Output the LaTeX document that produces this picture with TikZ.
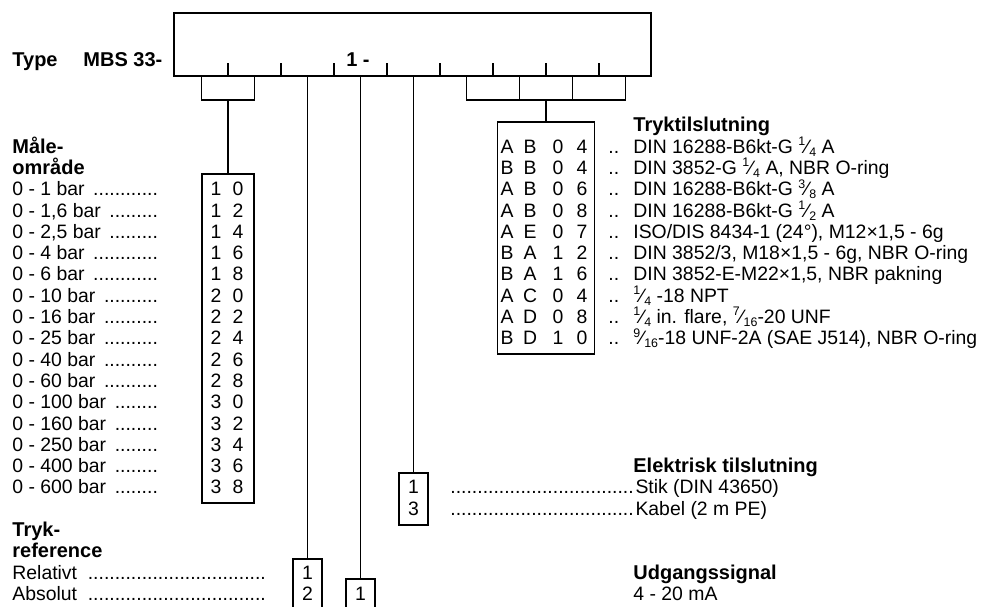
\documentclass[tikz,border=0pt]{standalone}
\usepackage{fontspec}
\setmainfont{Liberation Sans}
\usetikzlibrary{positioning,calc,fit}
\newcommand\rowy[1]{195.7+21.3*(#1)}
\newcommand\nutfr[2]{\raisebox{0.75ex}{\fontsize{6.2}{7}\selectfont #1}\kern0.02em\char"2044\kern0.02em\raisebox{-0.3ex}{\fontsize{6.2}{7}\selectfont #2}}
\newcommand\dotto[2]{\makebox[#1][l]{#2 \leaders\hbox{.}\hfill}}
\tikzset{
  txt/.style={anchor=base west,inner sep=0pt,font=\fontsize{9.7}{10.65}\selectfont},
  hd/.style={txt,font=\fontsize{10}{10.65}\selectfont\bfseries},
  dig/.style={txt,anchor=base},
  frame/.style={draw,line width=0.6pt,inner sep=0pt},
  ln/.style={line width=0.6pt},
}

\begin{document}
\begin{tikzpicture}[x=0.5pt,y=-0.5pt]
  \useasboundingbox (0,0) rectangle (1001,606);
  \clip (0,0) rectangle (1001,606);
  % type code line
  \node[hd] (type) at (12,66) {Type};
  \node[hd] (mbs) at (83,66) {MBS 33-};
  \node[frame,fit={(174,13) (651,76)}] (tbox) {};
  \node[hd,anchor=base] (one) at (358,66) {1 -};
  \foreach \k in {0,...,8}{\coordinate (s\k) at ({201.5+53*\k},76);}
  \foreach \k in {0,...,7}{\draw[ln] ($(s\k)+(26.5,0)$) -- ++(0,-13);}
  % boxes
  \node[frame,fit={(202,174) (254,503)}] (rng) {};
  \node[frame,fit={(497.5,122) (594.5,354)}] (conn) {};
  \node[frame,fit={(293,559) (322,625)}] (refb) {};
  \node[frame,fit={(346,579) (375,625)}] (outb) {};
  \node[frame,fit={(399,473) (428,525)}] (elb) {};
  % brackets and leads
  \draw[ln] (s0) -- ++(0,24) -| (s1);
  \coordinate (lb) at ($(s0)!.5!(s1)+(0,24)$);
  \draw[ln] (lb) -- (rng.north);
  \draw[ln] (s5) -- ++(0,24) -| (s8);
  \draw[ln] (s6) -- ++(0,24);
  \draw[ln] (s7) -- ++(0,24);
  \coordinate (rb) at ($(s6)!.5!(s7)+(0,24)$);
  \draw[ln] (rb) -- (conn.north);
  \draw[ln] (s2) -- (refb.north);
  \draw[ln] (s3) -- (outb.north);
  \draw[ln] (s4) -- (elb.north);
  % measuring range
  \node[hd] (male) at (12,{\rowy{-2}}) {Måle-};
  \node[hd] (omr) at (12,{\rowy{-1}}) {område};
  \foreach \r/\lab/\a/\b in {0/{0 - 1 bar}/1/0,1/{0 - 1,6 bar}/1/2,2/{0 - 2,5 bar}/1/4,
      3/{0 - 4 bar}/1/6,4/{0 - 6 bar}/1/8,5/{0 - 10 bar}/2/0,6/{0 - 16 bar}/2/2,
      7/{0 - 25 bar}/2/4,8/{0 - 40 bar}/2/6,9/{0 - 60 bar}/2/8,10/{0 - 100 bar}/3/0,
      11/{0 - 160 bar}/3/2,12/{0 - 250 bar}/3/4,13/{0 - 400 bar}/3/6,14/{0 - 600 bar}/3/8}{
    \node[txt] (rng-\r) at (12,{\rowy{\r}}) {\dotto{75pt}{\lab}};
    \node[dig] (rng-\r-a) at (216,{\rowy{\r}}) {\a};
    \node[dig] (rng-\r-b) at (238,{\rowy{\r}}) {\b};
  }
  % pressure reference
  \node[hd] (tryk) at (12,{\rowy{16}}) {Tryk-};
  \node[hd] (refh) at (12,{\rowy{17}}) {reference};
  \node[txt] (rel) at (12,{\rowy{18}}) {\dotto{128pt}{Relativt}};
  \node[txt] (abs) at (12,{\rowy{19}}) {\dotto{128pt}{Absolut}};
  \node[dig] (refb-1) at (307.5,{\rowy{18}}) {1};
  \node[dig] (refb-2) at (307.5,{\rowy{19}}) {2};
  \node[dig] (outb-1) at (360.5,{\rowy{19}}) {1};
  % pressure connection
  \node[hd] (tryt) at (633,{\rowy{-3}}) {Tryktilslutning};
  \foreach \i/\a/\b/\c/\d in {1/A/B/0/4,2/B/B/0/4,3/A/B/0/6,4/A/B/0/8,5/A/E/0/7,
      6/B/A/1/2,7/B/A/1/6,8/A/C/0/4,9/A/D/0/8,10/B/D/1/0}{
    \node[dig] (cd-\i-a) at (507,{\rowy{\i-3}}) {\a};
    \node[dig] (cd-\i-b) at (530,{\rowy{\i-3}}) {\b};
    \node[dig] (cd-\i-c) at (558,{\rowy{\i-3}}) {\c};
    \node[dig] (cd-\i-d) at (582,{\rowy{\i-3}}) {\d};
    \node[txt] (dd-\i) at (608,{\rowy{\i-3}}) {..};
  }
  \foreach \i/\desc in {1/{DIN 16288-B6kt-G \nutfr{1}{4} A},
      2/{DIN 3852-G \nutfr{1}{4} A, NBR O-ring},
      3/{DIN 16288-B6kt-G \nutfr{3}{8} A},
      4/{DIN 16288-B6kt-G \nutfr{1}{2} A},
      5/{ISO/DIS 8434-1 (24°), M12×1,5 - 6g},
      6/{DIN 3852/3, M18×1,5 - 6g, NBR O-ring},
      7/{DIN 3852-E-M22×1,5, NBR pakning},
      8/{\nutfr{1}{4} -18 NPT},
      9/{\nutfr{1}{4} in. flare, \nutfr{7}{16}-20 UNF},
      10/{\nutfr{9}{16}-18 UNF-2A (SAE J514), NBR O-ring}}{
    \node[txt] (cdt-\i) at (633,{\rowy{\i-3}}) {\desc};
  }
  % electrical connection
  \node[hd] (elh) at (633,{\rowy{13}}) {Elektrisk tilslutning};
  \node[dig] (elb-1) at (413.5,{\rowy{14}}) {1};
  \node[dig] (elb-3) at (413.5,{\rowy{15}}) {3};
  \node[txt] (stik) at (450,{\rowy{14}}) {\makebox[92.5pt][l]{\leaders\hbox{.}\hfill}Stik (DIN 43650)};
  \node[txt] (kab) at (450,{\rowy{15}}) {\makebox[92.5pt][l]{\leaders\hbox{.}\hfill}Kabel (2 m PE)};
  % output signal
  \node[hd] (udg) at (633,{\rowy{18}}) {Udgangssignal};
  \node[txt] (ma) at (633,{\rowy{19}}) {4 - 20 mA};
\end{tikzpicture}
\end{document}
